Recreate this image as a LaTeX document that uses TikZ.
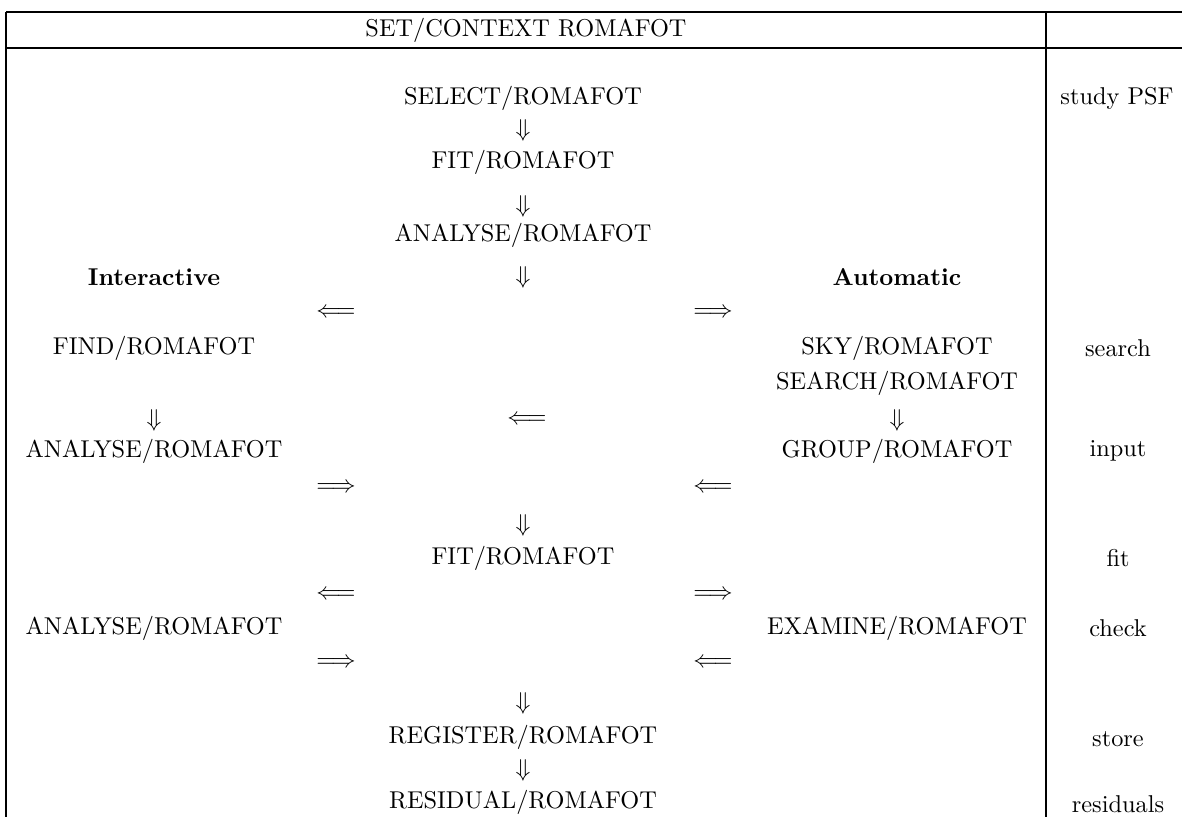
\documentclass[tikz,border=0pt]{standalone}
\begin{document}
\begin{tikzpicture}[x=0.411pt,y=-0.411pt,
  rule/.style={line width=0.8pt},
  txt/.style={inner sep=0pt,anchor=center},
  arr/.style={inner sep=0pt,anchor=center}]
\useasboundingbox (0,0) rectangle (1182,817);
% frame
\draw[rule] (6,12) -- (1182,12);
\draw[rule] (6,48) -- (1182,48);
\draw[rule] (6,12) -- (6,817);
\draw[rule] (1046,12) -- (1046,817);
\node[txt] (head) at (526,30) {SET/CONTEXT ROMAFOT};
% centre column
\node[txt] (select) at (523,98) {SELECT/ROMAFOT};
\node[arr] (d1) at (523,130) {$\Downarrow$};
\node[txt] (fit1) at (523,162) {FIT/ROMAFOT};
\node[arr] (d2) at (523,206) {$\Downarrow$};
\node[txt] (ana1) at (523,235) {ANALYSE/ROMAFOT};
\node[arr] (d3) at (523,277) {$\Downarrow$};
\node[txt] (inter) at (154,277) {\textbf{Interactive}};
\node[txt] (auto) at (897,277) {\textbf{Automatic}};
\node[arr] (l1) at (336,313) {$\Longleftarrow$};
\node[arr] (r1) at (713,313) {$\Longrightarrow$};
\node[txt] (find) at (154,348) {FIND/ROMAFOT};
\node[txt] (sky) at (897,348) {SKY/ROMAFOT};
\node[txt] (search) at (897,383) {SEARCH/ROMAFOT};
\node[arr] (d4) at (154,420) {$\Downarrow$};
\node[arr] (l2) at (527,420) {$\Longleftarrow$};
\node[arr] (d5) at (897,420) {$\Downarrow$};
\node[txt] (ana2) at (154,451) {ANALYSE/ROMAFOT};
\node[txt] (group) at (897,451) {GROUP/ROMAFOT};
\node[arr] (r2) at (336,488) {$\Longrightarrow$};
\node[arr] (l3) at (713,488) {$\Longleftarrow$};
\node[arr] (d6) at (523,525) {$\Downarrow$};
\node[txt] (fit2) at (523,558) {FIT/ROMAFOT};
\node[arr] (l4) at (336,595) {$\Longleftarrow$};
\node[arr] (r3) at (713,595) {$\Longrightarrow$};
\node[txt] (ana3) at (154,628) {ANALYSE/ROMAFOT};
\node[txt] (exam) at (897,628) {EXAMINE/ROMAFOT};
\node[arr] (r4) at (336,663) {$\Longrightarrow$};
\node[arr] (l5) at (713,663) {$\Longleftarrow$};
\node[arr] (d7) at (523,703) {$\Downarrow$};
\node[txt] (reg) at (523,737) {REGISTER/ROMAFOT};
\node[arr] (d8) at (523,770) {$\Downarrow$};
\node[txt] (resid) at (523,802) {RESIDUAL/ROMAFOT};
% right column
\node[txt] (c1) at (1117,98) {study PSF};
\node[txt] (c2) at (1118,348) {search};
\node[txt] (c3) at (1118,451) {input};
\node[txt] (c4) at (1118,558) {fit};
\node[txt] (c5) at (1118,628) {check};
\node[txt] (c6) at (1118,739) {store};
\node[txt] (c7) at (1118,804) {residuals};
\end{tikzpicture}
\end{document}
